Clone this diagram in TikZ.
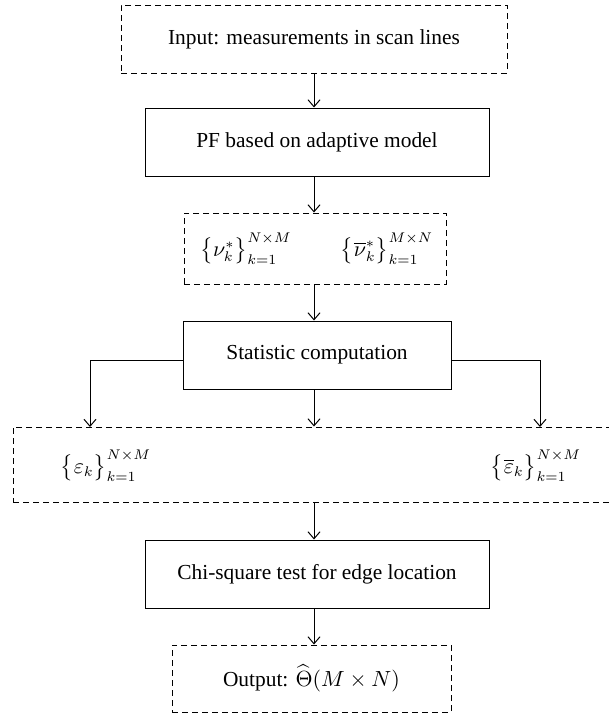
\documentclass[tikz,border=0pt]{standalone}
\usepackage{amsmath}
\usepackage{fontspec}
\setmainfont{Liberation Serif}
\usetikzlibrary{arrows.meta,positioning}

\tikzset{
	solidbox/.style={draw,line width=0.5pt,inner sep=0pt,minimum width=#1,minimum height=34pt},
	dashbox/.style={draw,line width=0.5pt,dash pattern=on 3pt off 2pt,inner sep=0pt,minimum width=#1},
	flow/.style={-{Straight Barb[length=3.5pt,width=6pt]},line width=0.5pt}
}

\begin{document}
\begin{tikzpicture}[x=0.5pt,y=-0.5pt,font=\fontsize{10.7}{12.8}\selectfont]
		\useasboundingbox (0,0) rectangle (609,718);
		
		\node[dashbox=193pt,minimum height=34pt] (input) at (314,39) {Input: measurements in scan lines};
		\node[solidbox=172pt] (pf) at (317,142) {PF based on adaptive model};
		\node[dashbox=131pt,minimum height=35.5pt] (resid) at (315,248.5) {};
		\node (nu) at (246,249) {$\bigl\{\nu_k^*\bigr\}_{k=1}^{N\times M}$};
		\node (nubar) at (387,249) {$\bigl\{\overline{\nu}_k^*\bigr\}_{k=1}^{M\times N}$};
		\node[solidbox=134pt] (stat) at (317,355) {Statistic computation};
		\node[dashbox=303.5pt,minimum height=37.5pt] (stats) at (316.5,464.5) {};
		\node (eps) at (106,466) {$\bigl\{\varepsilon_k\bigr\}_{k=1}^{N\times M}$};
		\node (epsbar) at (536,466) {$\bigl\{\overline{\varepsilon}_k\bigr\}_{k=1}^{N\times M}$};
		\node[solidbox=172pt] (chi) at (317,574) {Chi-square test for edge location};
		\node[dashbox=139.5pt,minimum height=33.5pt] (output) at (311.5,678.5) {Output: $\widehat{\Theta}(M\times N)$};
		
		\coordinate (lefttop) at (90,427);
		\coordinate (righttop) at (540,427);
		
		\draw[flow] (input.south -| 314,0) -- (pf.north -| 314,0);
		\draw[flow] (pf.south -| 314,0) -- (resid.north -| 314,0);
		\draw[flow] (resid.south -| 314,0) -- (stat.north -| 314,0);
		\draw[flow] (stat.south -| 314,0) -- (stats.north -| 314,0);
		\draw[flow] (stat.west |- 0,360) -| (lefttop);
		\draw[flow] (stat.east |- 0,360) -| (righttop);
		\draw[flow] (stats.south -| 314,0) -- (chi.north -| 314,0);
		\draw[flow] (chi.south -| 314,0) -- (output.north -| 314,0);
\end{tikzpicture}
\end{document}
